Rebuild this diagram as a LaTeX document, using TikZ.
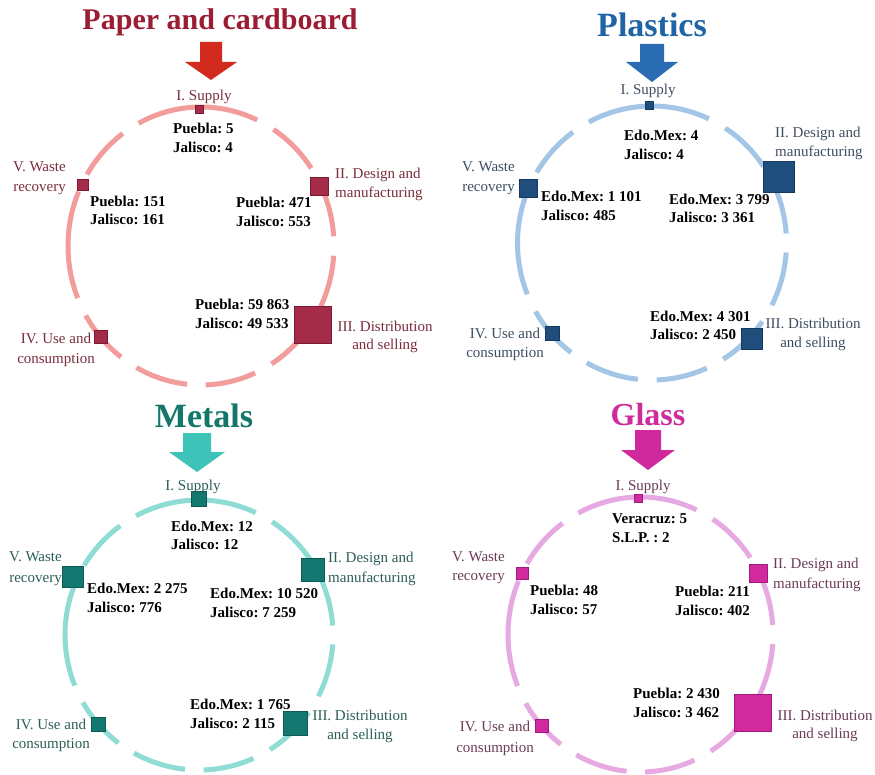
\documentclass[tikz,border=0pt]{standalone}
\usepackage{fontspec}
\setmainfont{Liberation Serif}
\frenchspacing
% palette of the four material cycles
\definecolor{pcRing}{HTML}{F29D9B}
\definecolor{pcSq}{HTML}{A52C48}
\definecolor{pcSqD}{HTML}{7D1A31}
\definecolor{pcTitle}{HTML}{9B1D33}
\definecolor{pcArrow}{HTML}{D32A1F}
\definecolor{pcLabel}{HTML}{7A2E3C}
\definecolor{plRing}{HTML}{A3C6E6}
\definecolor{plSq}{HTML}{1F4E7D}
\definecolor{plSqD}{HTML}{143A5F}
\definecolor{plTitle}{HTML}{1F64A6}
\definecolor{plArrow}{HTML}{2B6DB3}
\definecolor{plLabel}{HTML}{3E4E62}
\definecolor{meRing}{HTML}{8EDCD4}
\definecolor{meSq}{HTML}{13786F}
\definecolor{meSqD}{HTML}{0C5A53}
\definecolor{meTitle}{HTML}{137869}
\definecolor{meArrow}{HTML}{3DC3B8}
\definecolor{meLabel}{HTML}{2C5E59}
\definecolor{glRing}{HTML}{E7A9E1}
\definecolor{glSq}{HTML}{D12A9F}
\definecolor{glSqD}{HTML}{A11B7A}
\definecolor{glTitle}{HTML}{CE2C9C}
\definecolor{glArrow}{HTML}{D0299C}
\definecolor{glLabel}{HTML}{6B3B57}

% dashed ring: arcs between fixed gap angles (page angles, degrees)
\newcommand{\cyclering}[5]{% cx, cy, rx, ry, colour
  \foreach \ga/\gb in {153/122,122/61,61/30,30/0,0/-31,-31/-62,-62/-92,-92/-123,-123/-154,-154/-207}{
    \draw[ringline, draw=#5] (#1,#2) ++({-(\ga-4)}:#3 and #4)
      arc[start angle={-(\ga-4)}, end angle={-(\gb+4)}, x radius=#3, y radius=#4];
  }}
% block arrow pointing down: cx, top, head base, tip, shaft half width, head half width, colour
\newcommand{\inflow}[7]{%
  \fill[#7] (#1-#5,#2) -- (#1+#5,#2) -- (#1+#5,#3) -- (#1+#6,#3) -- (#1,#4)
    -- (#1-#6,#3) -- (#1-#5,#3) -- cycle;}
% two stacked text lines: name, style, anchor, x, baseline 1, baseline 2, line 1, line 2
\newcommand{\twoline}[8]{%
  \node[#2, anchor=#3] (#1-a) at (#4,#5) {#7};
  \node[#2, anchor=#3] (#1-b) at (#4,#6) {#8};}

\begin{document}
\begin{tikzpicture}[x=1pt,y=-1pt,
  ringline/.style={line width=5pt},
  stagebox/.style={draw, line width=0.6pt, inner sep=0pt, minimum size=#1},
  lab/.style={inner sep=0pt, font=\fontsize{15}{18}\selectfont},
  dat/.style={inner sep=0pt, text=black, font=\fontsize{15}{18}\selectfont\bfseries},
  ttl/.style={inner sep=0pt, anchor=base}]
\fill[white] (0,0) rectangle (875,775);
\useasboundingbox (0,0) rectangle (875,775);

% ---------------- Paper and cardboard ----------------
\cyclering{201}{246}{133}{139}{pcRing}
\inflow{211}{42}{62}{80}{11}{26}{pcArrow}
\node[ttl, text=pcTitle, font=\fontsize{30}{30}\selectfont\bfseries] (pc-title) at (220,30) {Paper and cardboard};
\node[stagebox=8pt,  fill=pcSq, draw=pcSqD] (pc-s1) at (199,109) {};
\node[stagebox=18pt, fill=pcSq, draw=pcSqD] (pc-s2) at (319,186) {};
\node[stagebox=37pt, fill=pcSq, draw=pcSqD] (pc-s3) at (313,325) {};
\node[stagebox=13pt, fill=pcSq, draw=pcSqD] (pc-s4) at (101,337) {};
\node[stagebox=11pt, fill=pcSq, draw=pcSqD] (pc-s5) at (83,185) {};
\node[lab, text=pcLabel, anchor=base] (pc-l1) at (204,101) {I. Supply};
\twoline{pc-l2}{lab, text=pcLabel}{base west}{335}{179}{198}{II. Design and}{manufacturing}
\twoline{pc-l3}{lab, text=pcLabel}{base}{385}{332}{350}{III. Distribution}{and selling}
\twoline{pc-l4}{lab, text=pcLabel}{base}{56}{344}{363}{IV. Use and}{consumption}
\twoline{pc-l5}{lab, text=pcLabel}{base east}{66}{172}{192}{V. Waste}{recovery}
\twoline{pc-d1}{dat}{base west}{173}{134}{153}{Puebla: 5}{Jalisco: 4}
\twoline{pc-d2}{dat}{base west}{236}{208}{227}{Puebla: 471}{Jalisco: 553}
\twoline{pc-d3}{dat}{base west}{195}{310}{329}{Puebla: 59 863}{Jalisco: 49 533}
\twoline{pc-d5}{dat}{base west}{90}{207}{225}{Puebla: 151}{Jalisco: 161}

% ---------------- Plastics ----------------
\cyclering{652}{243}{134.5}{137}{plRing}
\inflow{652}{44}{62}{82}{12}{26}{plArrow}
\node[ttl, text=plTitle, font=\fontsize{34}{34}\selectfont\bfseries] (pl-title) at (652,37) {Plastics};
\node[stagebox=8pt,  fill=plSq, draw=plSqD] (pl-s1) at (649,105) {};
\node[stagebox=31pt, fill=plSq, draw=plSqD] (pl-s2) at (779,177) {};
\node[stagebox=21pt, fill=plSq, draw=plSqD] (pl-s3) at (752,339) {};
\node[stagebox=14pt, fill=plSq, draw=plSqD] (pl-s4) at (552,333) {};
\node[stagebox=18pt, fill=plSq, draw=plSqD] (pl-s5) at (528,188) {};
\node[lab, text=plLabel, anchor=base] (pl-l1) at (648,95) {I. Supply};
\twoline{pl-l2}{lab, text=plLabel}{base west}{775}{138}{157}{II. Design and}{manufacturing}
\twoline{pl-l3}{lab, text=plLabel}{base}{813}{329}{348}{III. Distribution}{and selling}
\twoline{pl-l4}{lab, text=plLabel}{base}{505}{338}{357}{IV. Use and}{consumption}
\twoline{pl-l5}{lab, text=plLabel}{base east}{515}{172}{192}{V. Waste}{recovery}
\twoline{pl-d1}{dat}{base west}{624}{141}{160}{Edo.Mex: 4}{Jalisco: 4}
\twoline{pl-d2}{dat}{base west}{669}{205}{223}{Edo.Mex: 3 799}{Jalisco: 3 361}
\twoline{pl-d3}{dat}{base west}{650}{322}{340}{Edo.Mex: 4 301}{Jalisco: 2 450}
\twoline{pl-d5}{dat}{base west}{541}{202}{221}{Edo.Mex: 1 101}{Jalisco: 485}

% ---------------- Metals ----------------
\cyclering{199}{635}{134}{135}{meRing}
\inflow{197}{433}{452}{472}{14}{28}{meArrow}
\node[ttl, text=meTitle, font=\fontsize{34}{34}\selectfont\bfseries] (me-title) at (204,427) {Metals};
\node[stagebox=15pt, fill=meSq, draw=meSqD] (me-s1) at (199,499) {};
\node[stagebox=23pt, fill=meSq, draw=meSqD] (me-s2) at (313,570) {};
\node[stagebox=24pt, fill=meSq, draw=meSqD] (me-s3) at (295,723) {};
\node[stagebox=14pt, fill=meSq, draw=meSqD] (me-s4) at (98,724) {};
\node[stagebox=21pt, fill=meSq, draw=meSqD] (me-s5) at (73,577) {};
\node[lab, text=meLabel, anchor=base] (me-l1) at (193,490) {I. Supply};
\twoline{me-l2}{lab, text=meLabel}{base west}{328}{562}{582}{II. Design and}{manufacturing}
\twoline{me-l3}{lab, text=meLabel}{base}{360}{720}{739}{III. Distribution}{and selling}
\twoline{me-l4}{lab, text=meLabel}{base}{51}{729}{748}{IV. Use and}{consumption}
\twoline{me-l5}{lab, text=meLabel}{base east}{62}{561}{582}{V. Waste}{recovery}
\twoline{me-d1}{dat}{base west}{171}{531}{549}{Edo.Mex: 12}{Jalisco: 12}
\twoline{me-d2}{dat}{base west}{210}{598}{617}{Edo.Mex: 10 520}{Jalisco: 7 259}
\twoline{me-d3}{dat}{base west}{190}{709}{728}{Edo.Mex: 1 765}{Jalisco: 2 115}
\twoline{me-d5}{dat}{base west}{87}{593}{612}{Edo.Mex: 2 275}{Jalisco: 776}

% ---------------- Glass ----------------
\cyclering{640.5}{634.5}{132.5}{137.5}{glRing}
\inflow{648}{430}{450}{470}{13}{27}{glArrow}
\node[ttl, text=glTitle, font=\fontsize{32}{32}\selectfont\bfseries] (gl-title) at (648,425) {Glass};
\node[stagebox=8pt,  fill=glSq, draw=glSqD] (gl-s1) at (638,498) {};
\node[stagebox=18pt, fill=glSq, draw=glSqD] (gl-s2) at (758,573) {};
\node[stagebox=37pt, fill=glSq, draw=glSqD] (gl-s3) at (753,713) {};
\node[stagebox=13pt, fill=glSq, draw=glSqD] (gl-s4) at (542,726) {};
\node[stagebox=12pt, fill=glSq, draw=glSqD] (gl-s5) at (522,573) {};
\node[lab, text=glLabel, anchor=base] (gl-l1) at (643,490) {I. Supply};
\twoline{gl-l2}{lab, text=glLabel}{base west}{773}{568}{588}{II. Design and}{manufacturing}
\twoline{gl-l3}{lab, text=glLabel}{base}{825}{720}{738}{III. Distribution}{and selling}
\twoline{gl-l4}{lab, text=glLabel}{base}{495}{731}{752}{IV. Use and}{consumption}
\twoline{gl-l5}{lab, text=glLabel}{base east}{505}{561}{580}{V. Waste}{recovery}
\twoline{gl-d1}{dat}{base west}{612}{523}{542}{Veracruz: 5}{S.L.P. : 2}
\twoline{gl-d2}{dat}{base west}{675}{596}{615}{Puebla: 211}{Jalisco: 402}
\twoline{gl-d3}{dat}{base west}{633}{698}{717}{Puebla: 2 430}{Jalisco: 3 462}
\twoline{gl-d5}{dat}{base west}{530}{595}{614}{Puebla: 48}{Jalisco: 57}
\end{tikzpicture}
\end{document}
